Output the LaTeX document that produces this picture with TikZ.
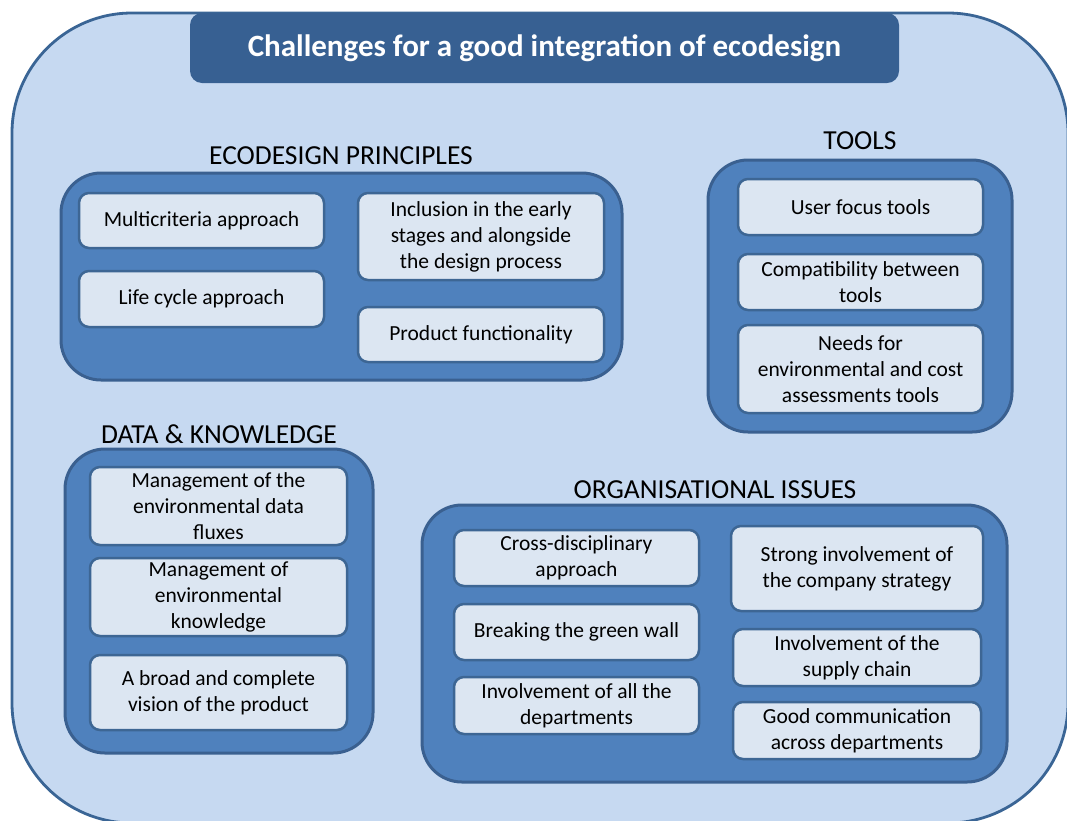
\documentclass[tikz,border=0pt]{standalone}
\usepackage{fontspec}
\setmainfont{Carlito}
\definecolor{outerfill}{HTML}{C6D9F1}
\definecolor{outerline}{HTML}{3A6595}
\definecolor{titleblue}{HTML}{376092}
\definecolor{groupblue}{HTML}{4F81BD}
\definecolor{groupline}{HTML}{3A6090}
\definecolor{itemblue}{HTML}{DCE6F2}
\definecolor{itemline}{HTML}{3D6694}
\begin{document}
\begin{tikzpicture}[x=1pt,y=-1pt,
  titlebox/.style={fill=titleblue, rounded corners=12pt, text=white,
    font=\fontsize{31}{36}\selectfont\bfseries, inner sep=0pt},
  groupbox/.style={draw=groupline, line width=3pt, fill=groupblue,
    rounded corners=40pt, inner sep=0pt},
  itembox/.style={draw=itemline, line width=2.5pt, fill=itemblue,
    rounded corners=10pt, align=center, inner sep=0pt,
    font=\fontsize{21.5}{26}\selectfont},
  headtext/.style={font=\fontsize{27.5}{32}\selectfont, inner sep=0pt}]
\useasboundingbox (0,0) rectangle (1067,820);
\clip (0,0) rectangle (1067,820);
% outer frame
\draw[draw=outerline, line width=2.8pt, fill=outerfill, rounded corners=120pt]
    (12,13) rectangle (1068,823);
\node[titlebox, minimum width=709pt, minimum height=70pt] (title) at (544.5,48)
    {Challenges for a good integration of ecodesign};
% the four groups
\node[groupbox, minimum width=561pt, minimum height=207pt] (eco) at (341.5,276.5) {};
\node[groupbox, minimum width=304pt, minimum height=272pt] (tools) at (860,296) {};
\node[groupbox, minimum width=308pt, minimum height=304pt] (data) at (219,601) {};
\node[groupbox, minimum width=585pt, minimum height=277pt] (org) at (714.5,643.5) {};
\node[headtext] (ecohead) at (341,156) {ECODESIGN PRINCIPLES};
\node[headtext] (toolshead) at (860,141) {TOOLS};
\node[headtext] (datahead) at (219,434) {DATA \& KNOWLEDGE};
\node[headtext] (orghead) at (715,490) {ORGANISATIONAL ISSUES};
% ecodesign principles
\node[itembox, minimum width=245pt, minimum height=55pt] (multi) at (201.5,220.5)
    {Multicriteria approach};
\node[itembox, minimum width=245pt, minimum height=56pt] (life) at (201.5,299)
    {Life cycle approach};
\node[itembox, minimum width=246pt, minimum height=87pt] (incl) at (481,236.5)
    {Inclusion in the early\\stages and alongside\\the design process};
\node[itembox, minimum width=246pt, minimum height=55pt] (prod) at (481,334.5)
    {Product functionality};
% tools
\node[itembox, minimum width=245pt, minimum height=56pt] (user) at (860.5,207)
    {User focus tools};
\node[itembox, minimum width=245pt, minimum height=56pt] (compat) at (860.5,282)
    {Compatibility between\\tools};
\node[itembox, minimum width=245pt, minimum height=88pt] (needs) at (860.5,369)
    {Needs for\\environmental and cost\\assessments tools};
% data & knowledge
\node[itembox, minimum width=257pt, minimum height=78pt] (mdata) at (218.5,506)
    {Management of the\\environmental data\\fluxes};
\node[itembox, minimum width=257pt, minimum height=78pt] (mknow) at (218.5,597)
    {Management of\\environmental\\knowledge};
\node[itembox, minimum width=257pt, minimum height=75pt] (broad) at (218.5,692.5)
    {A broad and complete\\vision of the product};
% organisational issues
\node[itembox, minimum width=245pt, minimum height=56pt] (cross) at (576.5,558)
    {Cross-disciplinary\\approach};
\node[itembox, minimum width=245pt, minimum height=56pt] (green) at (576.5,632)
    {Breaking the green wall};
\node[itembox, minimum width=245pt, minimum height=57pt] (alldep) at (576.5,705.5)
    {Involvement of all the\\departments};
\node[itembox, minimum width=252pt, minimum height=85pt] (strong) at (857,568.5)
    {Strong involvement of\\the company strategy};
\node[itembox, minimum width=248pt, minimum height=57pt] (supply) at (857,657.5)
    {Involvement of the\\supply chain};
\node[itembox, minimum width=248pt, minimum height=57pt] (comm) at (857,730.5)
    {Good communication\\across departments};
\end{tikzpicture}
\end{document}
